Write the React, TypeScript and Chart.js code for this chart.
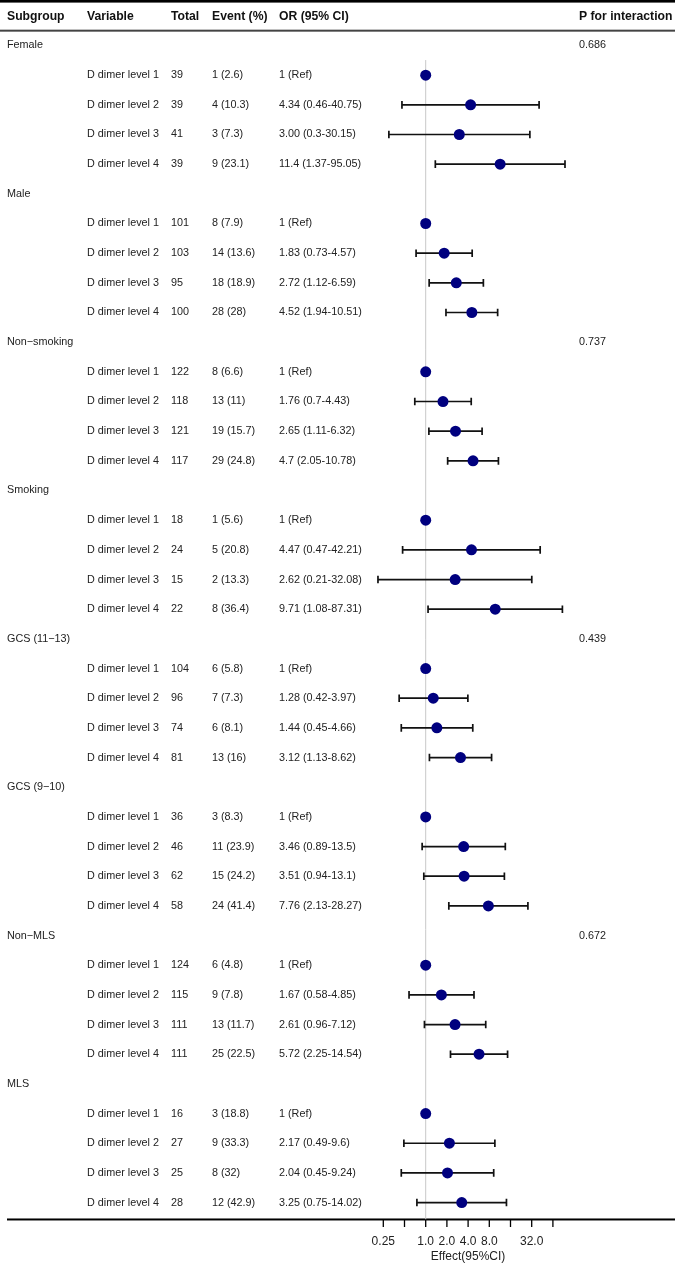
import React, { useEffect, useRef } from "react";
import { Chart, registerables } from "chart.js";

Chart.register(...registerables);

const subgroups = ["Female", "Male", "Non\u2212smoking", "Smoking", "GCS (11\u221213)", "GCS (9\u221210)", "Non\u2212MLS", "MLS"];
const pInteraction = ["0.686", "", "0.737", "", "0.439", "", "0.672", ""];
const variables = ["D dimer level 1", "D dimer level 2", "D dimer level 3", "D dimer level 4"];
const headers = ["Subgroup", "Variable", "Total", "Event (%)", "OR (95% CI)", "P for interaction"];

const totals = [
  [39, 39, 41, 39],
  [101, 103, 95, 100],
  [122, 118, 121, 117],
  [18, 24, 15, 22],
  [104, 96, 74, 81],
  [36, 46, 62, 58],
  [124, 115, 111, 111],
  [16, 27, 25, 28],
];

const events = [
  ["1 (2.6)", "4 (10.3)", "3 (7.3)", "9 (23.1)"],
  ["8 (7.9)", "14 (13.6)", "18 (18.9)", "28 (28)"],
  ["8 (6.6)", "13 (11)", "19 (15.7)", "29 (24.8)"],
  ["1 (5.6)", "5 (20.8)", "2 (13.3)", "8 (36.4)"],
  ["6 (5.8)", "7 (7.3)", "6 (8.1)", "13 (16)"],
  ["3 (8.3)", "11 (23.9)", "15 (24.2)", "24 (41.4)"],
  ["6 (4.8)", "9 (7.8)", "13 (11.7)", "25 (22.5)"],
  ["3 (18.8)", "9 (33.3)", "8 (32)", "12 (42.9)"],
];

const orText = [
  ["1 (Ref)", "4.34 (0.46-40.75)", "3.00 (0.3-30.15)", "11.4 (1.37-95.05)"],
  ["1 (Ref)", "1.83 (0.73-4.57)", "2.72 (1.12-6.59)", "4.52 (1.94-10.51)"],
  ["1 (Ref)", "1.76 (0.7-4.43)", "2.65 (1.11-6.32)", "4.7 (2.05-10.78)"],
  ["1 (Ref)", "4.47 (0.47-42.21)", "2.62 (0.21-32.08)", "9.71 (1.08-87.31)"],
  ["1 (Ref)", "1.28 (0.42-3.97)", "1.44 (0.45-4.66)", "3.12 (1.13-8.62)"],
  ["1 (Ref)", "3.46 (0.89-13.5)", "3.51 (0.94-13.1)", "7.76 (2.13-28.27)"],
  ["1 (Ref)", "1.67 (0.58-4.85)", "2.61 (0.96-7.12)", "5.72 (2.25-14.54)"],
  ["1 (Ref)", "2.17 (0.49-9.6)", "2.04 (0.45-9.24)", "3.25 (0.75-14.02)"],
];

const orValues = [
  [1, 4.34, 3.0, 11.4],
  [1, 1.83, 2.72, 4.52],
  [1, 1.76, 2.65, 4.7],
  [1, 4.47, 2.62, 9.71],
  [1, 1.28, 1.44, 3.12],
  [1, 3.46, 3.51, 7.76],
  [1, 1.67, 2.61, 5.72],
  [1, 2.17, 2.04, 3.25],
];

const lowerCI = [
  [null, 0.46, 0.3, 1.37],
  [null, 0.73, 1.12, 1.94],
  [null, 0.7, 1.11, 2.05],
  [null, 0.47, 0.21, 1.08],
  [null, 0.42, 0.45, 1.13],
  [null, 0.89, 0.94, 2.13],
  [null, 0.58, 0.96, 2.25],
  [null, 0.49, 0.45, 0.75],
];

const upperCI = [
  [null, 40.75, 30.15, 95.05],
  [null, 4.57, 6.59, 10.51],
  [null, 4.43, 6.32, 10.78],
  [null, 42.21, 32.08, 87.31],
  [null, 3.97, 4.66, 8.62],
  [null, 13.5, 13.1, 28.27],
  [null, 4.85, 7.12, 14.54],
  [null, 9.6, 9.24, 14.02],
];

const axisTicks = [0.25, 0.5, 1, 2, 4, 8, 16, 32, 64];
const axisLabels = ["0.25", "", "1.0", "2.0", "4.0", "8.0", "", "32.0", ""];
const axisTitle = "Effect(95%CI)";

const FONT = "'Liberation Sans', Arial, Helvetica, sans-serif";

const forestPlugin = {
  id: "forestTable",
  beforeDatasetsDraw(chart: any) {
    const ctx = chart.ctx as CanvasRenderingContext2D;
    const xs = chart.scales.x;
    const ys = chart.scales.y;
    const W = chart.width;
    const py = (r: number) => ys.getPixelForValue(r);
    const px = (v: number) => xs.getPixelForValue(v);

    ctx.save();
    // rules
    ctx.fillStyle = "#000";
    ctx.fillRect(0, py(-1.49) - 1.3, W, 2.6);
    ctx.fillStyle = "#444";
    ctx.fillRect(0, py(-0.5) - 1, W, 2);
    const bottomY = py(39.57);
    ctx.fillStyle = "#000";
    ctx.fillRect(7, bottomY - 1, W - 7, 2);

    // reference line
    const x1 = px(1);
    ctx.strokeStyle = "#c8c8c8";
    ctx.lineWidth = 1;
    ctx.beginPath();
    ctx.moveTo(x1, py(0.49));
    ctx.lineTo(x1, bottomY);
    ctx.stroke();

    // error bars
    ctx.strokeStyle = "#111";
    ctx.lineWidth = 1.7;
    for (let g = 0; g < subgroups.length; g++) {
      for (let k = 0; k < variables.length; k++) {
        const lo = lowerCI[g][k];
        const hi = upperCI[g][k];
        if (lo == null || hi == null) continue;
        const y = py(5 * g + 1 + k);
        const xl = px(lo);
        const xu = px(hi);
        ctx.beginPath();
        ctx.moveTo(xl, y);
        ctx.lineTo(xu, y);
        ctx.moveTo(xl, y - 3.8);
        ctx.lineTo(xl, y + 3.8);
        ctx.moveTo(xu, y - 3.8);
        ctx.lineTo(xu, y + 3.8);
        ctx.stroke();
      }
    }

    // header
    const colX = [7, 87, 171, 212, 279, 579];
    ctx.textBaseline = "middle";
    ctx.textAlign = "left";
    ctx.fillStyle = "#111";
    ctx.font = `bold 12.2px ${FONT}`;
    const hy = py(-0.97);
    headers.forEach((h, i) => ctx.fillText(h, colX[i], hy));

    // body
    ctx.fillStyle = "#222";
    ctx.font = `10.8px ${FONT}`;
    for (let g = 0; g < subgroups.length; g++) {
      const gy = py(5 * g);
      ctx.fillText(subgroups[g], colX[0], gy);
      if (pInteraction[g]) ctx.fillText(pInteraction[g], colX[5], gy);
      for (let k = 0; k < variables.length; k++) {
        const y = py(5 * g + 1 + k);
        ctx.fillText(variables[k], colX[1], y);
        ctx.fillText(String(totals[g][k]), colX[2], y);
        ctx.fillText(events[g][k], colX[3], y);
        ctx.fillText(orText[g][k], colX[4], y);
      }
    }

    // axis ticks
    ctx.strokeStyle = "#000";
    ctx.lineWidth = 1.3;
    ctx.beginPath();
    axisTicks.forEach((t) => {
      const x = px(t);
      ctx.moveTo(x, bottomY);
      ctx.lineTo(x, bottomY + 7.5);
    });
    ctx.stroke();
    ctx.fillStyle = "#222";
    ctx.font = `12px ${FONT}`;
    ctx.textAlign = "center";
    axisTicks.forEach((t, i) => {
      if (axisLabels[i]) ctx.fillText(axisLabels[i], px(t), bottomY + 22);
    });
    const mid = (px(axisTicks[0]) + px(axisTicks[axisTicks.length - 1])) / 2;
    ctx.fillText(axisTitle, mid, bottomY + 37);
    ctx.restore();
  },
};

export default function App() {
  const ref = useRef<HTMLCanvasElement | null>(null);
  useEffect(() => {
    document.body.style.margin = "0";
    const canvas = ref.current;
    if (!canvas) return;
    const points: { x: number; y: number }[] = [];
    for (let g = 0; g < subgroups.length; g++) {
      for (let k = 0; k < variables.length; k++) {
        points.push({ x: orValues[g][k], y: 5 * g + 1 + k });
      }
    }
    const chart = new Chart(canvas, {
      type: "scatter",
      data: {
        datasets: [
          {
            data: points,
            backgroundColor: "#00007f",
            borderColor: "#00007f",
            borderWidth: 0,
            pointRadius: 5.5,
            pointHoverRadius: 5.5,
          },
        ],
      },
      options: {
        animation: false,
        responsive: false,
        maintainAspectRatio: false,
        layout: { padding: { left: 340.9, right: 37.3, top: 15.83, bottom: 7.1 } },
        plugins: { legend: { display: false }, tooltip: { enabled: false } },
        scales: {
          x: { type: "logarithmic", min: 0.0625, max: 1024, display: false },
          y: { type: "linear", min: -1, max: 41, reverse: true, display: false },
        },
      },
      plugins: [forestPlugin],
    });
    return () => chart.destroy();
  }, []);
  return (
    <div style={{ width: 675, height: 1269 }}>
      <canvas ref={ref} width={675} height={1269} style={{ display: "block", width: 675, height: 1269 }} />
    </div>
  );
}
